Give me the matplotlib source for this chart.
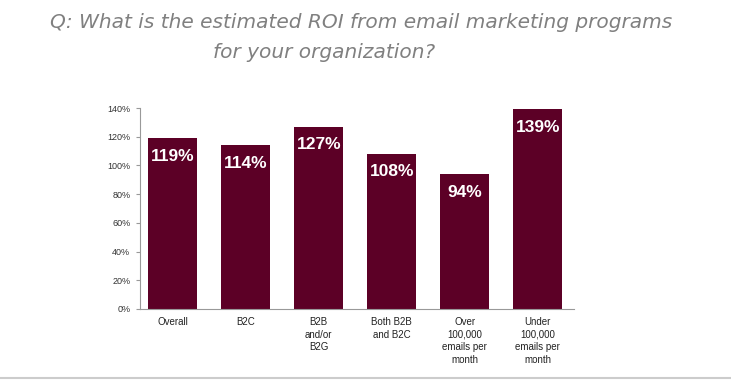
import matplotlib
matplotlib.use("Agg")
import matplotlib.pyplot as plt
from matplotlib.lines import Line2D

categories = ["Overall", "B2C", "B2B\nand/or\nB2G", "Both B2B\nand B2C",
              "Over\n100,000\nemails per\nmonth", "Under\n100,000\nemails per\nmonth"]
values = [119, 114, 127, 108, 94, 139]
yticks = [0, 20, 40, 60, 80, 100, 120, 140]

fig = plt.figure(figsize=(7.31, 3.81), dpi=100)
ax = fig.add_axes([0.1915, 0.189, 0.594, 0.5275])

x = list(range(len(values)))
bars = ax.bar(x, values, width=0.67, color="#5c0026")
ax.set_xlim(-0.45, 5.5)
ax.set_ylim(0, 140)
ax.set_yticks(yticks)
ax.set_yticklabels([f"{v}%" for v in yticks], fontsize=6.5, color="#333333",
                   family="Liberation Sans")
ax.set_xticks(x)
ax.set_xticklabels(categories, fontsize=7, color="#222222", family="Liberation Sans",
                   linespacing=1.3, va="top")
ax.tick_params(axis="x", length=0, pad=6)
ax.tick_params(axis="y", length=3, color="#999999", pad=4)
for s in ["top", "right"]:
    ax.spines[s].set_visible(False)
ax.spines["left"].set_color("#999999")
ax.spines["bottom"].set_color("#999999")
ax.spines["left"].set_linewidth(0.8)
ax.spines["bottom"].set_linewidth(0.8)

for xi, v in zip(x, values):
    ax.annotate(f"{v}%", (xi, v), xytext=(0, -18), textcoords="offset pixels",
                ha="center", va="center", color="white", fontsize=12.5, fontweight="bold",
                family="Liberation Sans")

fig.text(361 / 731, 1 - 23 / 381, "Q: What is the estimated ROI from email marketing programs",
         ha="center", va="center", fontsize=14.5, style="italic", color="#808080",
         family="DejaVu Sans")
fig.text(324 / 731, 1 - 52 / 381, "for your organization?",
         ha="center", va="center", fontsize=14.5, style="italic", color="#808080",
         family="DejaVu Sans")

fig.add_artist(Line2D([0, 1], [1 - 378 / 381, 1 - 378 / 381], transform=fig.transFigure,
                      color="#cccccc", linewidth=1.5))

fig.savefig("out.png", dpi=100)
